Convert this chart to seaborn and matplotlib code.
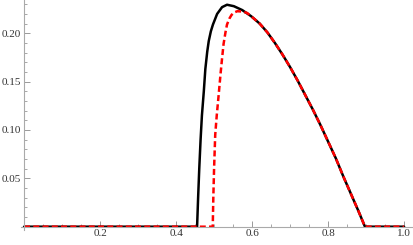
import pandas as pd
import numpy as np
import matplotlib
matplotlib.use("Agg")
import matplotlib.pyplot as plt
import seaborn as sns
from matplotlib.ticker import MultipleLocator, FixedLocator

sns.set_style("white")
plt.rcParams['font.family'] = ['Liberation Serif', 'DejaVu Serif']

# values
x_black = [0.0, 0.4553, 0.458, 0.461, 0.4645, 0.468, 0.473, 0.477, 0.482, 0.486,
           0.4915, 0.497, 0.508, 0.521, 0.534, 0.552, 0.574, 0.598,
           0.62, 0.64, 0.66, 0.68, 0.70, 0.72, 0.74, 0.76, 0.78, 0.80,
           0.82, 0.84, 0.86, 0.88, 0.897, 1.0]
y_black = [0.0, 0.0, 0.030, 0.060, 0.090, 0.115, 0.140, 0.163, 0.181, 0.192,
           0.202, 0.209, 0.220, 0.227, 0.2295, 0.228, 0.224, 0.2175,
           0.210, 0.201, 0.190, 0.178, 0.165, 0.151, 0.136, 0.121, 0.105, 0.088,
           0.071, 0.052, 0.034, 0.016, 0.0, 0.0]

x_red = [0.0, 0.4965, 0.498, 0.500, 0.503, 0.507, 0.512, 0.517, 0.521, 0.525,
         0.530, 0.534, 0.540, 0.546, 0.553, 0.561, 0.574, 0.587, 0.598,
         0.62, 0.64, 0.66, 0.68, 0.70, 0.72, 0.74, 0.76, 0.78, 0.80,
         0.82, 0.84, 0.86, 0.88, 0.897, 1.0]
y_red = [0.0, 0.0, 0.030, 0.060, 0.095, 0.115, 0.136, 0.158, 0.174, 0.189,
         0.201, 0.209, 0.215, 0.219, 0.2215, 0.2228, 0.2225, 0.221, 0.2175,
         0.210, 0.201, 0.190, 0.178, 0.165, 0.151, 0.136, 0.121, 0.105, 0.088,
         0.071, 0.052, 0.034, 0.016, 0.0, 0.0]

y_ticks = [0.05, 0.10, 0.15, 0.20]
y_labels = ["0.05", "0.10", "0.15", "0.20"]
x_ticks = [0.2, 0.4, 0.6, 0.8, 1.0]
x_labels = ["0.2", "0.4", "0.6", "0.8", "1.0"]

df_black = pd.DataFrame({'x': x_black, 'y': y_black})
df_red = pd.DataFrame({'x': x_red, 'y': y_red})

fig = plt.figure(figsize=(4.14, 2.45), dpi=100)
ax = fig.add_axes([21 / 414, 15.4 / 245, 393 / 414, 229.6 / 245])

sns.lineplot(data=df_black, x='x', y='y', ax=ax, color='black', lw=1.8,
             estimator=None, sort=False)
sns.lineplot(data=df_red, x='x', y='y', ax=ax, color='#ff0000', lw=1.8,
             estimator=None, sort=False)
ax.lines[-1].set_dashes((2.4, 1.3))
for ln in ax.lines:
    ln.set_solid_joinstyle('round')
    ln.set_dash_joinstyle('round')

ax.set_xlim(-0.008, 1.026)
ax.set_ylim(-0.003, 0.2344)
ax.set_xlabel('')
ax.set_ylabel('')

for s in ['top', 'right']:
    ax.spines[s].set_visible(False)
ax.spines['left'].set_position(('data', 0))
ax.spines['bottom'].set_position(('data', 0))
for s in ['left', 'bottom']:
    ax.spines[s].set_color('#aaaaaa')
    ax.spines[s].set_linewidth(0.8)

ax.xaxis.set_major_locator(FixedLocator(x_ticks))
ax.set_xticklabels(x_labels)
ax.xaxis.set_minor_locator(MultipleLocator(0.05))
ax.yaxis.set_major_locator(FixedLocator(y_ticks))
ax.set_yticklabels(y_labels)
ax.yaxis.set_minor_locator(MultipleLocator(0.01))

ax.tick_params(which='major', direction='in', length=4, width=0.7,
               color='#999999', labelsize=8, labelcolor='#333333', pad=2)
ax.tick_params(which='minor', direction='in', length=2.2, width=0.6,
               color='#999999')
ax.tick_params(axis='x', which='both', bottom=True)
ax.tick_params(axis='y', which='both', left=True)

fig.savefig('out.png', dpi=100)
